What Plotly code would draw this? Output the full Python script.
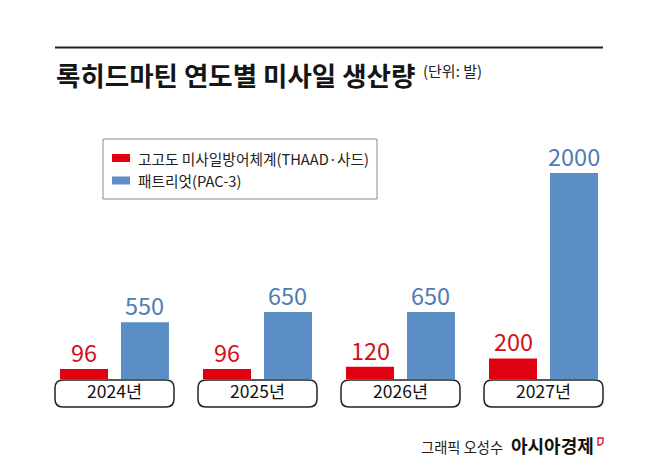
import plotly.graph_objects as go

years = ["2024년", "2025년", "2026년", "2027년"]
thaad = [96, 96, 120, 200]
pac3 = [550, 650, 650, 2000]
series_names = ["고고도 미사일방어체계(THAAD·사드)", "패트리엇(PAC-3)"]
title_text = "록히드마틴 연도별 미사일 생산량"
unit_text = "(단위: 발)"
credit_left = "그래픽 오성수"
credit_right = "아시아경제"

RED = "#e1000f"
BLUE = "#5a8ec5"
RED_TXT = "#d2101a"
BLUE_TXT = "#4d7db3"
FONT = "Noto Sans CJK KR"

W, Hh = 658, 475
ML, MR, MT, MB = 43, 43, 100, 96
PW = W - ML - MR
PH = Hh - MT - MB
BASE = Hh - MB
BARGAP, GROUPGAP = 0.147, 0.213


def px(x):
    return (x - ML) / PW


def py(y):
    return (BASE - y) / PH


def rrect(x0, y0, x1, y1, r):
    pts = [
        f"M {px(x0 + r)} {py(y0)}",
        f"L {px(x1 - r)} {py(y0)}",
        f"Q {px(x1)} {py(y0)} {px(x1)} {py(y0 + r)}",
        f"L {px(x1)} {py(y1 - r)}",
        f"Q {px(x1)} {py(y1)} {px(x1 - r)} {py(y1)}",
        f"L {px(x0 + r)} {py(y1)}",
        f"Q {px(x0)} {py(y1)} {px(x0)} {py(y1 - r)}",
        f"L {px(x0)} {py(y0 + r)}",
        f"Q {px(x0)} {py(y0)} {px(x0 + r)} {py(y0)}",
        "Z",
    ]
    return " ".join(pts)


fig = go.Figure()
fig.add_trace(go.Bar(
    x=years, y=thaad, name=series_names[0], marker=dict(color=RED, line=dict(width=0)),
    showlegend=False, hoverinfo="skip",
))
fig.add_trace(go.Bar(
    x=years, y=pac3, name=series_names[1], marker=dict(color=BLUE, line=dict(width=0)),
    showlegend=False, hoverinfo="skip",
))

ymax = max(pac3) * PH / 206.0

slot = PW / len(years)
half_off = slot * (1 - BARGAP) / 4.0  # offset from group centre to each bar centre

annotations = []
for series, color, sgn in ((thaad, RED_TXT, -1), (pac3, BLUE_TXT, 1)):
    for cat, v in zip(years, series):
        annotations.append(dict(
            x=cat, y=v, xref="x", yref="y", text=str(v), showarrow=False,
            xanchor="center", yanchor="bottom", xshift=sgn * half_off, yshift=-2,
            font=dict(family=FONT, size=23.5, color=color),
        ))

shapes = []
# top rule
shapes.append(dict(type="line", xref="paper", yref="paper", x0=px(55), x1=px(603),
                   y0=py(47.5), y1=py(47.5), line=dict(color="#222222", width=2)))
# category boxes
for i in range(len(years)):
    c = ML + (i + 0.5) * slot
    shapes.append(dict(type="path", xref="paper", yref="paper", layer="below",
                       path=rrect(c - 59.5, 380, c + 59.5, 407, 8),
                       fillcolor="white", line=dict(color="#222222", width=1.5)))
# legend box
shapes.append(dict(type="rect", xref="paper", yref="paper", x0=px(103), x1=px(377),
                   y0=py(139), y1=py(199), line=dict(color="#8a8a8a", width=1),
                   fillcolor="rgba(0,0,0,0)"))
shapes.append(dict(type="rect", xref="paper", yref="paper", x0=px(112), x1=px(130),
                   y0=py(154), y1=py(162), line=dict(width=0), fillcolor=RED))
shapes.append(dict(type="rect", xref="paper", yref="paper", x0=px(112), x1=px(130),
                   y0=py(176.5), y1=py(184.5), line=dict(width=0), fillcolor=BLUE))
# logo mark
shapes.append(dict(type="path", xref="paper", yref="paper",
                   path=f"M {px(598)} {py(438)} L {px(603)} {py(438)} L {px(603)} {py(443)} L {px(600)} {py(445)} L {px(598)} {py(445)} Z",
                   line=dict(color="#c8102e", width=1.3), fillcolor="rgba(0,0,0,0)"))

annotations += [
    dict(text=f"<b>{title_text}</b>", xref="paper", yref="paper", x=px(54), y=py(74),
         xanchor="left", yanchor="middle", showarrow=False,
         font=dict(family=FONT, size=26.5, color="#151515")),
    dict(text=unit_text, xref="paper", yref="paper", x=px(421), y=py(70),
         xanchor="left", yanchor="middle", showarrow=False,
         font=dict(family=FONT, size=15, color="#222222")),
    dict(text=series_names[0], xref="paper", yref="paper", x=px(136), y=py(158.5),
         xanchor="left", yanchor="middle", showarrow=False,
         font=dict(family=FONT, size=14.7, color="#222222")),
    dict(text=series_names[1], xref="paper", yref="paper", x=px(136), y=py(180.5),
         xanchor="left", yanchor="middle", showarrow=False,
         font=dict(family=FONT, size=14.7, color="#222222")),
    dict(text=credit_left, xref="paper", yref="paper", x=px(505), y=py(446),
         xanchor="right", yanchor="middle", showarrow=False,
         font=dict(family=FONT, size=14.3, color="#222222")),
    dict(text=f"<b>{credit_right}</b>", xref="paper", yref="paper", x=px(509), y=py(445),
         xanchor="left", yanchor="middle", showarrow=False,
         font=dict(family=FONT, size=18, color="#111111")),
]

fig.update_layout(
    width=W, height=Hh,
    margin=dict(l=ML, r=MR, t=MT, b=MB, pad=0),
    paper_bgcolor="white", plot_bgcolor="white",
    barmode="group", bargap=BARGAP, bargroupgap=GROUPGAP,
    shapes=shapes, annotations=annotations,
    xaxis=dict(type="category", range=[-0.5, len(years) - 0.5], showgrid=False,
               showline=False, zeroline=False, ticks="",
               tickfont=dict(family=FONT, size=17.5, color="#111111"),
               fixedrange=True),
    yaxis=dict(range=[0, ymax], visible=False, showgrid=False, zeroline=False,
               fixedrange=True),
    font=dict(family=FONT),
)

fig.write_html(
    "out.html",
    config={"displayModeBar": False},
    post_script="document.body.style.margin='0';document.body.style.overflow='hidden';",
)
